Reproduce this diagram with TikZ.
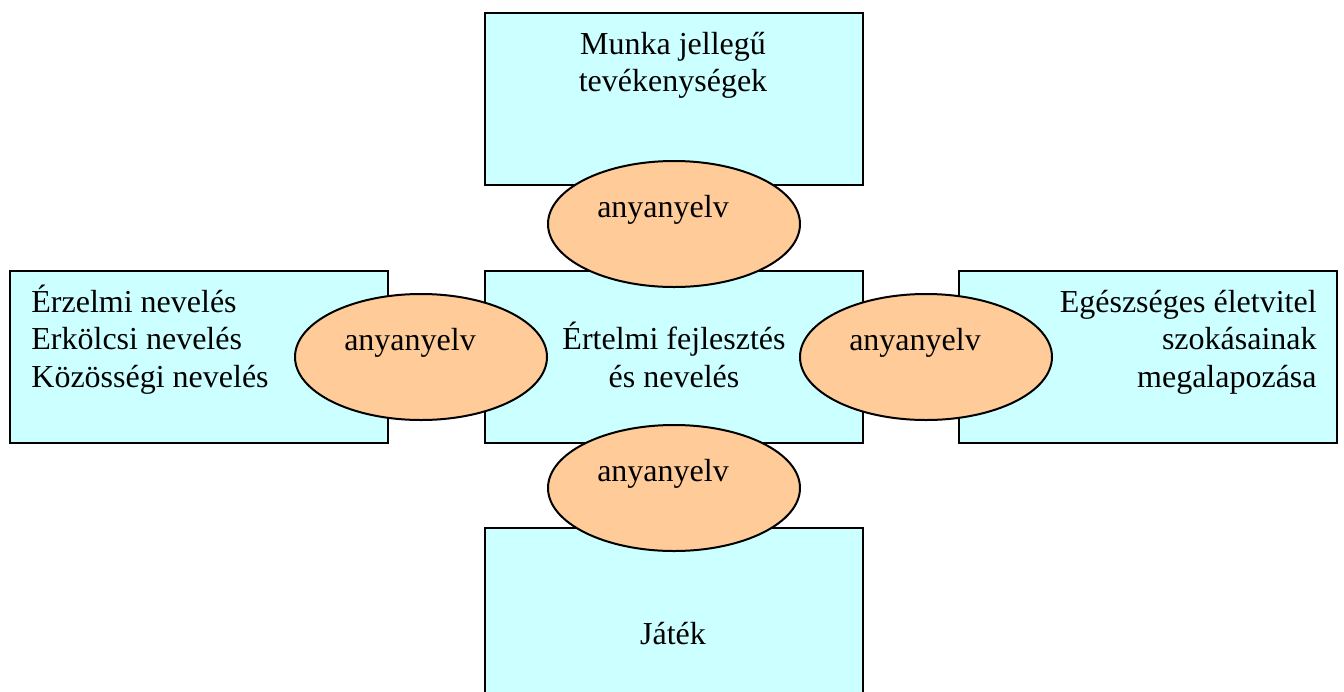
\documentclass[tikz,border=0pt]{standalone}
\usepackage{fontspec}
\setmainfont{Liberation Serif}
\usetikzlibrary{shapes.geometric}
\definecolor{boxcyan}{HTML}{CCFFFF}
\definecolor{ovaltan}{HTML}{FFCC99}
\tikzset{
    area/.style={shape=rectangle, draw=black, fill=boxcyan, line width=1pt,
        minimum width=189pt, minimum height=86pt, inner sep=0pt},
    oval/.style={shape=ellipse, draw=black, fill=ovaltan, line width=1pt,
        minimum width=126pt, minimum height=63pt, inner sep=0pt},
    txt/.style={font=\fontsize{16}{18.75}\selectfont, inner sep=0pt}}
\begin{document}
\begin{tikzpicture}[x=0.5pt, y=-0.5pt]

    \clip (0,0) rectangle (1344,691);

    \node[area] (T) at (673.5,99) {};
    \node[area] (C) at (673.5,356.5) {};
    \node[area] (L) at (199,357) {};
    \node[area] (R) at (1148,357) {};
    \node[area] (B) at (673.5,614) {};

    \node[txt, anchor=base, align=center] (tT) at (673,91.5) {Munka jellegű\\tevékenységek};
    \node[txt, anchor=base, align=center] (tC) at (674,387) {Értelmi fejlesztés\\és nevelés};
    \node[txt, anchor=base west, align=left] (tL) at (31,387) {Érzelmi nevelés\\Erkölcsi nevelés\\Közösségi nevelés};
    \node[txt, anchor=base east, align=right] (tR) at (1317,387) {Egészséges életvitel\\szokásainak\\megalapozása};
    \node[txt, anchor=base] (tB) at (673,644) {Játék};

    \node[oval] (OT) at (674,224) {};
    \node[oval] (OL) at (421,357) {};
    \node[oval] (OR) at (926,357) {};
    \node[oval] (OB) at (674,488) {};

    \node[txt, anchor=base] (aT) at ([shift={(-11,-7)}]OT.center) {anyanyelv};
    \node[txt, anchor=base] (aL) at ([shift={(-11,-7)}]OL.center) {anyanyelv};
    \node[txt, anchor=base] (aR) at ([shift={(-11,-7)}]OR.center) {anyanyelv};
    \node[txt, anchor=base] (aB) at ([shift={(-11,-7)}]OB.center) {anyanyelv};

\end{tikzpicture}
\end{document}
